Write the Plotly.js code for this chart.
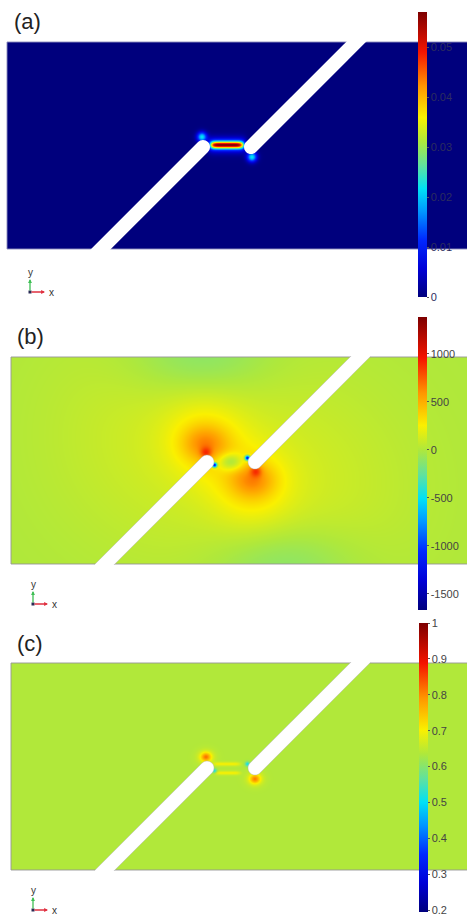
<!DOCTYPE html>
<html><head><meta charset="utf-8">
<script src="https://cdn.plot.ly/plotly-3.0.1.min.js"></script>
<style>html,body{margin:0;padding:0;background:#fff}#chart{width:467px;height:918px}</style>
</head><body><div id="chart"></div>
<script>
// ---------- labels / scales ----------
const panelLabels = ['(a)', '(b)', '(c)'];
const zRangeA = [0, 0.057];
const zRangeB = [-1667, 1385];
const zRangeC = [0.195, 1.0];
const tickValsA = [0, 0.01, 0.02, 0.03, 0.04, 0.05];
const tickTextA = ['0', '0.01', '0.02', '0.03', '0.04', '0.05'];
const tickValsB = [-1500, -1000, -500, 0, 500, 1000];
const tickTextB = ['-1500', '-1000', '-500', '0', '500', '1000'];
const tickValsC = [0.2, 0.3, 0.4, 0.5, 0.6, 0.7, 0.8, 0.9, 1];
const tickTextC = ['0.2', '0.3', '0.4', '0.5', '0.6', '0.7', '0.8', '0.9', '1'];

// ---------- domain geometry (model units) ----------
const domainSize = [460, 207];
const capCenters = [[196, 102], [244, 102]];
const slotRadius = 7;

// ---------- field hot spots ----------
// panel (a)
const baseA = 0;
const spotXA   = [220,   220,   195,   245];
const spotYA   = [104,   104,   112,   92];
const spotAmpA = [0.042, 0.015, 0.022, 0.022];
const spotSxA  = [15,    17.5,  3.5,   3.5];
const spotSyA  = [2.4,   5,     3.5,   3.5];
const spotPwA  = [8,     8,     2,     2];
// panel (b)
const baseB = 0;
const spotXB   = [150, 290, 189,  274,  194, 194, 195, 241, 242, 245, 220,  203.5, 236.5];
const spotYB   = [130, 75,  206,  0,    125, 120, 111, 78,  84,  93,  102,  99,    106];
const spotAmpB = [100, 100, -170, -170, 220, 300, 330, 220, 300, 330, -380, -1500, -1500];
const spotSxB  = [80,  80,  50,   50,   28,  15,  4,   28,  15,  4,   9,    1.8,   1.8];
const spotSyB  = [80,  80,  28,   28,   28,  12,  4,   28,  12,  4,   6,    1.8,   1.8];
const spotPwB  = [2,   2,   2,    2,    2,   2,   2,   2,   2,   2,   2,    2,     2];
// panel (c)
const baseC = 0.637;
const spotXC   = [195,  244,  195,  244,  216,  216,  203.5, 236.5];
const spotYC   = [113,  91,   113,  91,   106,  97,   99,    106];
const spotAmpC = [0.13, 0.12, 0.05, 0.05, 0.06, 0.06, -0.12, -0.12];
const spotSxC  = [3.5,  3.5,  6,    6,    12,   12,   1.7,   1.7];
const spotSyC  = [3,    3,    5,    5,    1.4,  1.4,  1.7,   1.7];
const spotPwC  = [2,    2,    2,    2,    6,    6,    2,     2];

const rainbow = [
  [0.0, 'rgb(0,0,125)'],
  [0.1, 'rgb(0,0,215)'],
  [0.2, 'rgb(0,40,255)'],
  [0.3, 'rgb(0,150,255)'],
  [0.38, 'rgb(0,225,245)'],
  [0.46, 'rgb(95,225,160)'],
  [0.546, 'rgb(174,232,60)'],
  [0.63, 'rgb(250,240,0)'],
  [0.74, 'rgb(255,150,0)'],
  [0.86, 'rgb(245,20,0)'],
  [1.0, 'rgb(125,0,0)']
];

function buildField(base, xs, ys, amps, sxs, sys, pws) {
  const z = [];
  for (let j = 0; j < domainSize[1]; j++) {
    const y = j + 0.5;
    const row = new Array(domainSize[0]);
    for (let i = 0; i < domainSize[0]; i++) {
      const x = i + 0.5;
      let v = base;
      for (let k = 0; k < xs.length; k++) {
        const dx = Math.abs(x - xs[k]) / sxs[k];
        const dy = (y - ys[k]) / sys[k];
        const e = Math.pow(dx, pws[k]) + dy * dy;
        if (e < 40) v += amps[k] * Math.exp(-0.5 * e);
      }
      row[i] = v;
    }
    z.push(row);
  }
  return z;
}

function slotPath(c, d, r, yb) {
  const n = [-d[1], d[0]];
  const k = 0.5523 * r;
  const P = a => a[0].toFixed(3) + ',' + a[1].toFixed(3);
  const side = s => {
    const q = [c[0] + s * r * n[0], c[1] + s * r * n[1]];
    const t = (yb - q[1]) / d[1];
    return [q[0] + t * d[0], q[1] + t * d[1]];
  };
  const A = side(1), Ap = side(-1);
  const B = [c[0] + r * n[0], c[1] + r * n[1]];
  const Bp = [c[0] - r * n[0], c[1] - r * n[1]];
  const F = [c[0] + r * d[0], c[1] + r * d[1]];
  const c1 = [B[0] + k * d[0], B[1] + k * d[1]];
  const c2 = [F[0] + k * n[0], F[1] + k * n[1]];
  const c3 = [F[0] - k * n[0], F[1] - k * n[1]];
  const c4 = [Bp[0] + k * d[0], Bp[1] + k * d[1]];
  return 'M' + P(A) + 'L' + P(B) + 'C' + P(c1) + ' ' + P(c2) + ' ' + P(F) +
         'C' + P(c3) + ' ' + P(c4) + ' ' + P(Bp) + 'L' + P(Ap) + 'Z';
}

const W = 467, H = 918;
const boxes = [[6, 41], [10, 356], [10, 662]];
const cbars = [
  {x: 418, top: 12, len: 285},
  {x: 418, top: 317, len: 293},
  {x: 419, top: 623, len: 289}
];
const fields = [
  buildField(baseA, spotXA, spotYA, spotAmpA, spotSxA, spotSyA, spotPwA),
  buildField(baseB, spotXB, spotYB, spotAmpB, spotSxB, spotSyB, spotPwB),
  buildField(baseC, spotXC, spotYC, spotAmpC, spotSxC, spotSyC, spotPwC)
];
const ranges = [zRangeA, zRangeB, zRangeC];
const tvals = [tickValsA, tickValsB, tickValsC];
const ttext = [tickTextA, tickTextB, tickTextC];
const tickCols = ['rgb(45,45,95)', '#444', '#444'];
const borderCols = ['rgba(140,140,190,0.9)', 'rgba(150,150,150,0.9)', 'rgba(150,150,150,0.9)'];

const data = [], shapes = [], annotations = [];
const layout = {
  width: W, height: H, margin: {l: 0, r: 0, t: 0, b: 0},
  paper_bgcolor: '#fff', plot_bgcolor: '#fff', showlegend: false,
  font: {family: 'Liberation Sans, Arial, sans-serif', color: '#333'}
};

for (let p = 0; p < 3; p++) {
  const sfx = p === 0 ? '' : String(p + 1);
  const left = boxes[p][0], top = boxes[p][1];
  const xr = [-1, W - left - 1];
  const yr = [-1, domainSize[1] + 1];
  const hpx = yr[1] - yr[0];
  layout['xaxis' + sfx] = {domain: [left / W, 1], range: xr, visible: false, fixedrange: true,
                           anchor: 'y' + sfx};
  layout['yaxis' + sfx] = {domain: [1 - (top + hpx) / H, 1 - top / H], range: yr, visible: false,
                           fixedrange: true, anchor: 'x' + sfx};
  const cb = cbars[p];
  data.push({
    type: 'heatmap', z: fields[p], x0: 0.5, dx: 1, y0: 0.5, dy: 1,
    xaxis: 'x' + sfx, yaxis: 'y' + sfx,
    zmin: ranges[p][0], zmax: ranges[p][1], colorscale: rainbow, hoverinfo: 'skip',
    colorbar: {
      x: cb.x / W, xanchor: 'left', xpad: 0, y: 1 - cb.top / H, yanchor: 'top', ypad: 0,
      len: cb.len, lenmode: 'pixels', thickness: 9, outlinewidth: 0, borderwidth: 0,
      tickvals: tvals[p], ticktext: ttext[p], ticks: 'outside', ticklen: 2, tickcolor: '#555',
      tickfont: {size: 11, color: tickCols[p], family: 'Liberation Sans, Arial, sans-serif'}
    }
  });
  shapes.push({type: 'rect', xref: 'x' + sfx, yref: 'y' + sfx, x0: 0, x1: domainSize[0] + 5,
               y0: 0, y1: domainSize[1], line: {color: borderCols[p], width: 1}, fillcolor: 'rgba(0,0,0,0)',
               layer: 'above'});
  const s2 = Math.SQRT1_2;
  shapes.push({type: 'path', xref: 'x' + sfx, yref: 'y' + sfx, layer: 'above',
               path: slotPath(capCenters[0], [s2, s2], slotRadius, -3),
               fillcolor: '#fff', line: {color: 'rgba(170,170,170,0.6)', width: p === 0 ? 0 : 0.7}});
  shapes.push({type: 'path', xref: 'x' + sfx, yref: 'y' + sfx, layer: 'above',
               path: slotPath(capCenters[1], [-s2, -s2], slotRadius, domainSize[1] + 3),
               fillcolor: '#fff', line: {color: 'rgba(170,170,170,0.6)', width: p === 0 ? 0 : 0.7}});
}

const labelPos = [[12, 22], [15, 336], [15, 643]];
panelLabels.forEach((t, i) => annotations.push({
  text: t, xref: 'paper', yref: 'paper', x: labelPos[i][0] / W, y: 1 - labelPos[i][1] / H,
  xanchor: 'left', yanchor: 'middle', showarrow: false,
  font: {size: 22, color: '#222', family: 'Liberation Sans, Arial, sans-serif'}
}));

const triads = [[30, 292], [33, 604], [33, 910]];
triads.forEach(([cx, cy]) => {
  annotations.push({text: '', xref: 'paper', yref: 'paper', x: cx / W, y: 1 - (cy - 13) / H,
    ax: 0, ay: 13, showarrow: true, arrowhead: 2, arrowsize: 0.6, arrowwidth: 1.3,
    arrowcolor: '#3fbf55', standoff: 0, startstandoff: 0});
  annotations.push({text: '', xref: 'paper', yref: 'paper', x: (cx + 15) / W, y: 1 - cy / H,
    ax: -15, ay: 0, showarrow: true, arrowhead: 2, arrowsize: 0.6, arrowwidth: 1.3,
    arrowcolor: '#e03040', standoff: 0, startstandoff: 0});
  annotations.push({text: 'y', xref: 'paper', yref: 'paper', x: cx / W, y: 1 - (cy - 20) / H,
    showarrow: false, xanchor: 'center', yanchor: 'middle', font: {size: 10, color: '#333'}});
  annotations.push({text: 'x', xref: 'paper', yref: 'paper', x: (cx + 21) / W, y: 1 - cy / H,
    showarrow: false, xanchor: 'center', yanchor: 'middle', font: {size: 10, color: '#333'}});
  shapes.push({type: 'rect', xref: 'paper', yref: 'paper', x0: (cx - 1.5) / W, x1: (cx + 1.5) / W,
    y0: 1 - (cy + 1.5) / H, y1: 1 - (cy - 1.5) / H, fillcolor: '#2a2a55', line: {width: 0}});
});

layout.shapes = shapes;
layout.annotations = annotations;
Plotly.newPlot('chart', data, layout, {staticPlot: true, displayModeBar: false});
</script>
</body></html>
